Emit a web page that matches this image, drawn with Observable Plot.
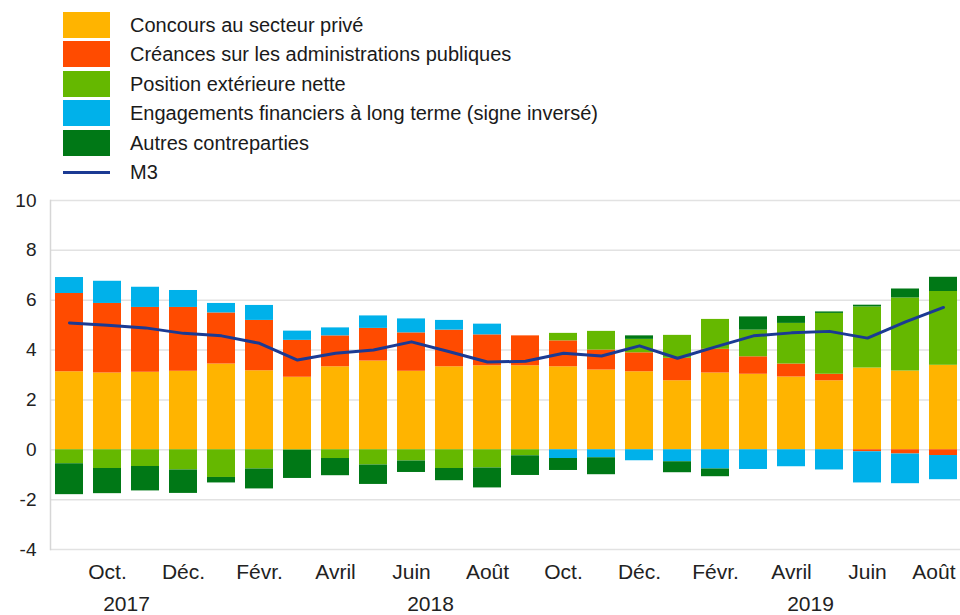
<!DOCTYPE html>
<html>
<head>
<meta charset="utf-8">
<script src="https://cdn.jsdelivr.net/npm/d3@7"></script>
<script src="https://cdn.jsdelivr.net/npm/@observablehq/plot@0.6"></script>
<style>
  html, body { margin: 0; padding: 0; background: #fff; }
  body { width: 960px; height: 615px; overflow: hidden; font-family: "Liberation Sans", Arial, sans-serif; }
  #legend { position: relative; height: 190px; }
  .row { position: absolute; left: 0; height: 26px; }
  .sw { position: absolute; left: 63px; width: 47px; height: 26px; }
  .ln { position: absolute; left: 63px; width: 47px; height: 3px; top: 12px; }
  .lab { position: absolute; left: 130px; top: 0; line-height: 26px; font-size: 20px; color: #1a1a1a; white-space: nowrap; }
  svg { display: block; }
</style>
</head>
<body>
<div id="legend"></div>
<div id="chart"></div>
<script>
const months = ["2017-09","2017-10","2017-11","2017-12","2018-01","2018-02","2018-03","2018-04","2018-05","2018-06","2018-07","2018-08","2018-09","2018-10","2018-11","2018-12","2019-01","2019-02","2019-03","2019-04","2019-05","2019-06","2019-07","2019-08"];
const seriesNames = ["Concours au secteur privé","Créances sur les administrations publiques","Position extérieure nette","Engagements financiers à long terme (signe inversé)","Autres contreparties"];
const seriesColors = ["#FFB400","#FF4B00","#65B800","#00B1EA","#007816"];
const lineName = "M3";
const lineColor = "#1B3A93";

const privateSector = [3.13,3.08,3.11,3.15,3.44,3.17,2.91,3.33,3.56,3.15,3.33,3.37,3.37,3.33,3.20,3.13,2.77,3.08,3.03,2.92,2.77,3.28,3.16,3.39];
const government    = [3.14,2.79,2.60,2.56,2.05,2.02,1.48,1.24,1.31,1.54,1.47,1.24,1.20,1.04,0.80,0.76,0.90,0.95,0.70,0.52,0.26,-0.08,-0.17,-0.23];
const externalPos   = [-0.56,-0.75,-0.67,-0.81,-1.11,-0.77,-0.02,-0.35,-0.61,-0.45,-0.75,-0.73,-0.24,0.30,0.75,0.54,0.92,1.20,1.07,1.63,2.44,2.45,2.93,2.96];
const longTerm      = [0.64,0.89,0.81,0.68,0.38,0.60,0.37,0.32,0.50,0.56,0.39,0.43,0.00,-0.35,-0.32,-0.44,-0.48,-0.77,-0.79,-0.68,-0.81,-1.25,-1.19,-0.97];
const otherCp       = [-1.24,-1.01,-0.98,-0.94,-0.22,-0.80,-1.13,-0.69,-0.78,-0.46,-0.49,-0.80,-0.79,-0.48,-0.68,0.14,-0.44,-0.31,0.53,0.28,0.06,0.07,0.36,0.57];
const m3            = [5.09,5.00,4.89,4.67,4.57,4.27,3.60,3.87,4.00,4.33,3.93,3.52,3.55,3.87,3.76,4.17,3.67,4.13,4.57,4.69,4.75,4.48,5.13,5.71];

const tickMonths = ["2017-10","2017-12","2018-02","2018-04","2018-06","2018-08","2018-10","2018-12","2019-02","2019-04","2019-06"];
const lastTickMonth = ["2019-08"];
const monthLabels = {"01":"Janv.","02":"Févr.","03":"Mars","04":"Avril","05":"Mai","06":"Juin","07":"Juil.","08":"Août","09":"Sept.","10":"Oct.","11":"Nov.","12":"Déc."};
const years = ["2017","2018","2019"];
const yearAnchorMonth = ["2017-10","2018-06","2019-04"];
const yTicks = [-4,-2,0,2,4,6,8,10];

// Legend
const legend = document.getElementById("legend");
const rowTops = [12, 41, 71, 100, 130, 159];
seriesNames.forEach((name, i) => {
  const r = document.createElement("div");
  r.className = "row"; r.style.top = rowTops[i] + "px";
  r.innerHTML = `<div class="sw" style="background:${seriesColors[i]}"></div><div class="lab">${name}</div>`;
  legend.appendChild(r);
});
{
  const r = document.createElement("div");
  r.className = "row"; r.style.top = rowTops[5] + "px";
  r.innerHTML = `<div class="ln" style="background:${lineColor}"></div><div class="lab">${lineName}</div>`;
  legend.appendChild(r);
}

// Long table
const seriesValues = [privateSector, government, externalPos, longTerm, otherCp];
const table = [];
months.forEach((m, i) => {
  seriesNames.forEach((s, k) => table.push({month: m, series: s, value: seriesValues[k][i]}));
});
const lineData = months.map((m, i) => ({month: m, value: m3[i]}));
const yearData = years.map((y, i) => ({year: y, month: yearAnchorMonth[i]}));
const fmtMonth = d => monthLabels[d.slice(5)];

const chart = Plot.plot({
  width: 960,
  height: 425,
  marginTop: 10,
  marginBottom: 66,
  marginLeft: 50,
  marginRight: 0,
  style: {fontFamily: "'Liberation Sans', Arial, sans-serif", fontSize: "20px", color: "#222", background: "#fff", overflow: "visible"},
  x: {type: "band", domain: months, range: [50, 963], paddingInner: 0.26, paddingOuter: 0.13, label: null},
  y: {domain: [-4, 10], label: null},
  color: {domain: seriesNames, range: seriesColors},
  marks: [
    Plot.ruleY(yTicks, {stroke: "#e2e2e2", strokeWidth: 1.5}),
    Plot.frame({anchor: "left", stroke: "#d6d6d6", strokeWidth: 1.5}),
    Plot.barY(table, {x: "month", y: "value", fill: "series", order: seriesNames}),
    Plot.line(lineData, {x: "month", y: "value", stroke: lineColor, strokeWidth: 3, strokeLinejoin: "round"}),
    Plot.axisY({ticks: yTicks, tickSize: 0, tickPadding: 14, fontSize: 19, tickFormat: d => String(d), label: null}),
    Plot.axisX({ticks: tickMonths, tickSize: 0, tickPadding: 15, fontSize: 21, tickFormat: fmtMonth, label: null}),
    Plot.axisX({ticks: lastTickMonth, tickSize: 0, tickPadding: 15, fontSize: 21, tickFormat: fmtMonth, textAnchor: "end", dx: 12, label: null}),
    Plot.text(yearData, {x: "month", text: "year", frameAnchor: "bottom", dx: 19, dy: 55, lineAnchor: "middle", fontSize: 21, fill: "#222"})
  ]
});
document.getElementById("chart").appendChild(chart);
</script>
</body>
</html>
